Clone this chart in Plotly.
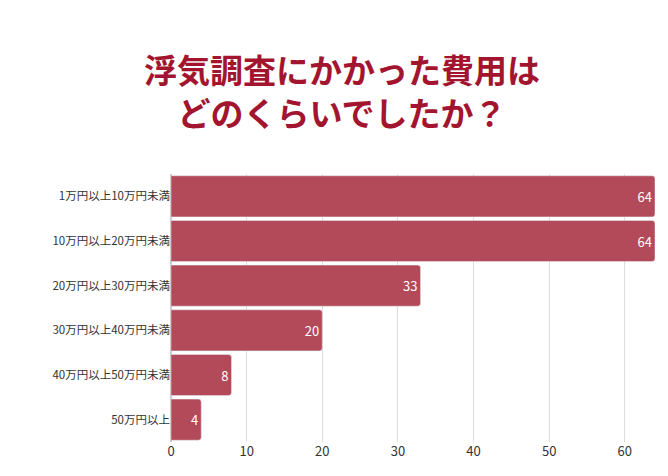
import plotly.graph_objects as go

categories = ["1万円以上10万円未満", "10万円以上20万円未満", "20万円以上30万円未満",
              "30万円以上40万円未満", "40万円以上50万円未満", "50万円以上"]
values = [64, 64, 33, 20, 8, 4]

fig = go.Figure(go.Bar(
    x=values, y=categories, orientation="h",
    marker=dict(color="#b34a5a"),
    text=values, textposition="inside", insidetextanchor="end",
    textfont=dict(color="white", size=13),
    width=0.92,
))

fig.update_layout(
    width=668, height=476,
    margin=dict(l=163, r=21, t=166, b=42),
    paper_bgcolor="white", plot_bgcolor="white",
    font=dict(family="Noto Sans CJK JP", color="#333333", size=11),
    barcornerradius=3,
    showlegend=False,
)
fig.add_annotation(
    text="<b>浮気調査にかかった費用は<br>どのくらいでしたか？</b>",
    xref="paper", yref="paper", x=0.353, y=1, xanchor="center", yanchor="bottom",
    yshift=36, showarrow=False, align="center",
    font=dict(size=33, color="#a3152f", family="Noto Sans CJK JP"),
)
fig.update_xaxes(range=[0, 64], dtick=10, showgrid=True, gridcolor="#dddddd",
                 zeroline=True, zerolinecolor="#cccccc", tickfont=dict(size=13))
fig.update_yaxes(autorange="reversed", automargin=False, tickfont=dict(size=11.5))

fig.write_html("out.html")
